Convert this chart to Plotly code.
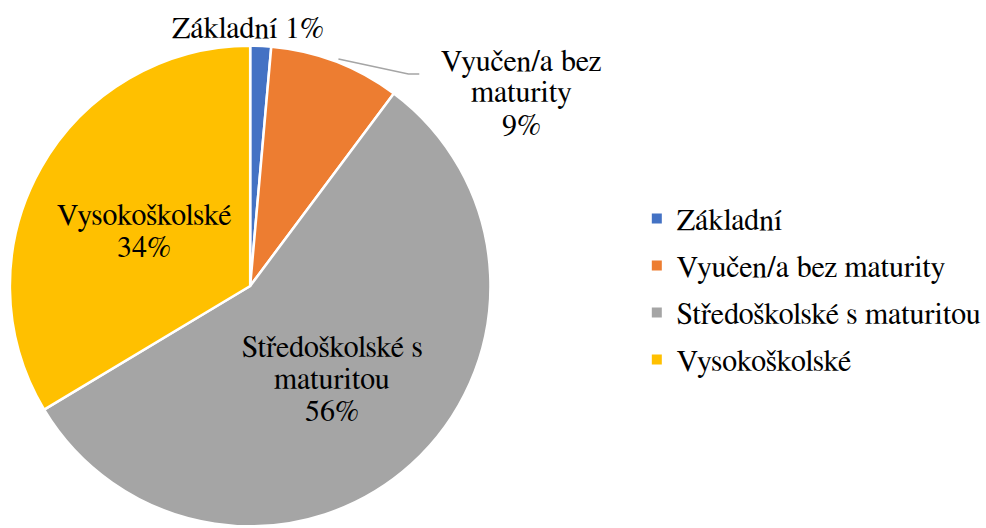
import math
import plotly.graph_objects as go

# ---- data ----
labels = ["Základní", "Vyučen/a bez maturity", "Středoškolské s maturitou", "Vysokoškolské"]
label_lines = [["Základní"], ["Vyučen/a bez", "maturity"], ["Středoškolské s", "maturitou"], ["Vysokoškolské"]]
values = [1.4, 8.8, 56.2, 33.6]
colors = ["#4472C4", "#ED7D31", "#A5A5A5", "#FFC000"]

# ---- style ----
W, H = 986, 528
FONT = "FreeSerif"
FS = 30
LINE_GAP = 32
# (center x px, first-line center y px, percent on same line?)
label_pos = [(251, 29, True), (527, 62, False), (336, 348, False), (146, 216, False)]

dom_x = [10 / W, 496 / W]
dom_y = [0.0, (H - 44) / H]

total = sum(values)
pct = [round(v / total * 100) for v in values]

fig = go.Figure()
fig.add_trace(go.Pie(
    labels=labels,
    values=values,
    sort=False,
    direction="clockwise",
    rotation=0,
    marker=dict(colors=colors, line=dict(color="white", width=2.5)),
    textinfo="none",
    domain=dict(x=dom_x, y=dom_y),
    showlegend=False,
    hoverinfo="label+percent",
))

# legend entries via dummy traces (for spacing control)
for lab, col in zip(labels, colors):
    fig.add_trace(go.Scatter(
        x=[None], y=[None], mode="markers", name=lab, legendgroup=lab,
        marker=dict(symbol="square", size=10, color=col),
    ))

def px(x): return x / W
def py(y): return 1 - y / H

# pie geometry (px) for leader line of the 2nd slice
cx = (dom_x[0] + dom_x[1]) / 2 * W
cy = H - (dom_y[0] + dom_y[1]) / 2 * H
r = min((dom_x[1] - dom_x[0]) * W, (dom_y[1] - dom_y[0]) * H) / 2
cum = values[0] + values[1] / 2
ang = cum / total * 2 * math.pi
sx, sy = cx + r * math.sin(ang), cy - r * math.cos(ang)
fig.add_shape(type="path",
              path=f"M {px(sx+3)} {py(sy-1)} L {px(413)} {py(74)} L {px(424)} {py(74)}",
              xref="paper", yref="paper", line=dict(color="#A5A5A5", width=1.5))

# data labels, line by line
for lines, p, (x0, y0, same) in zip(label_lines, pct, label_pos):
    if same:
        texts = lines[:-1] + [f"{lines[-1]} {p}%"]
    else:
        texts = lines + [f"{p}%"]
    for i, t in enumerate(texts):
        fig.add_annotation(x=px(x0), y=py(y0 + i * LINE_GAP), xref="paper", yref="paper",
                           xanchor="center", yanchor="middle", text=t, showarrow=False,
                           font=dict(family=FONT, size=FS, color="black"))

fig.update_layout(
    width=W, height=H,
    margin=dict(l=0, r=0, t=0, b=0),
    paper_bgcolor="white", plot_bgcolor="white",
    xaxis=dict(visible=False), yaxis=dict(visible=False),
    legend=dict(x=644 / W, y=py(289), xanchor="left", yanchor="middle",
                font=dict(family=FONT, size=FS, color="black"),
                tracegroupgap=5, bgcolor="rgba(0,0,0,0)"),
    font=dict(family=FONT),
)

fig.write_html("out.html", config={"displayModeBar": False},
               post_script="document.body.style.margin='0px';")
